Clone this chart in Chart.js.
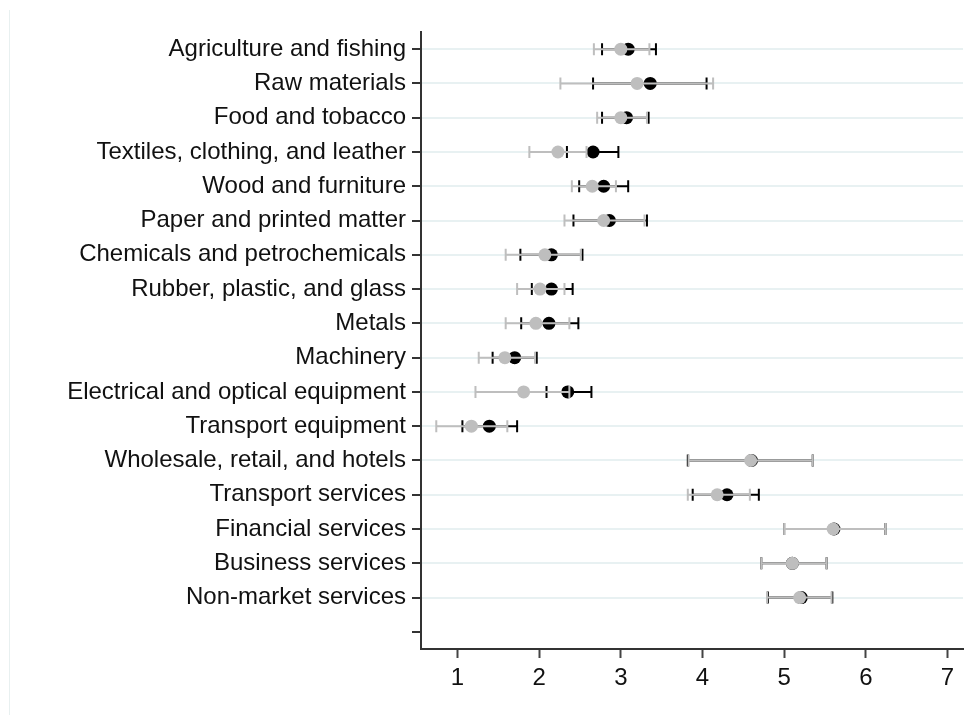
<!DOCTYPE html>
<html lang="en">
<head>
    <meta charset="UTF-8">
    <title>Sector estimates</title>
    <script src="https://cdn.jsdelivr.net/npm/chart.js@4.4.1/dist/chart.umd.min.js"></script>
    <style>
        body {
            margin: 0;
            background-color: white;
        }
        .wrap {
            position: relative;
            width: 979px;
            height: 715px;
        }
        .frame {
            position: absolute;
            left: 9px;
            top: 10px;
            height: 705px;
            border-left: 1px solid #e8f0f0;
        }
    </style>
</head>
<body>
    <div class="wrap">
        <div class="frame"></div>
        <canvas id="dotChart" width="979" height="715"></canvas>
    </div>

    <script>
// Categories (last one is the empty tick at the bottom)
const categories = [
    'Agriculture and fishing',
    'Raw materials',
    'Food and tobacco',
    'Textiles, clothing, and leather',
    'Wood and furniture',
    'Paper and printed matter',
    'Chemicals and petrochemicals',
    'Rubber, plastic, and glass',
    'Metals',
    'Machinery',
    'Electrical and optical equipment',
    'Transport equipment',
    'Wholesale, retail, and hotels',
    'Transport services',
    'Financial services',
    'Business services',
    'Non-market services',
    ''
];

// Black series: point estimate and interval
const blackMean = [3.09, 3.36, 3.07, 2.66, 2.79, 2.86, 2.15, 2.15, 2.12, 1.70, 2.35, 1.39, 4.60, 4.30, 5.61, 5.10, 5.21];
const blackLo   = [2.77, 2.66, 2.77, 2.34, 2.49, 2.42, 1.77, 1.91, 1.78, 1.43, 2.09, 1.06, 3.82, 3.88, 5.00, 4.72, 4.80];
const blackHi   = [3.43, 4.05, 3.34, 2.97, 3.09, 3.32, 2.53, 2.41, 2.48, 1.97, 2.64, 1.73, 5.35, 4.69, 6.24, 5.52, 5.59];

// Gray series: point estimate and interval
const grayMean = [3.00, 3.20, 3.00, 2.23, 2.65, 2.79, 2.07, 2.01, 1.96, 1.58, 1.81, 1.17, 4.59, 4.18, 5.60, 5.10, 5.19];
const grayLo   = [2.67, 2.26, 2.71, 1.88, 2.40, 2.31, 1.59, 1.73, 1.59, 1.26, 1.22, 0.74, 3.83, 3.82, 5.00, 4.72, 4.79];
const grayHi   = [3.35, 4.13, 3.32, 2.58, 2.94, 3.29, 2.51, 2.31, 2.37, 1.95, 2.37, 1.61, 5.35, 4.58, 6.24, 5.52, 5.58];

// X axis ticks
const xTicks = [1, 2, 3, 4, 5, 6, 7];

const grayColor = 'rgb(190,190,190)';
const blackColor = '#000000';

// Draw each dataset's interval (line + caps) right before its points
const errorBars = {
    id: 'errorBars',
    beforeDatasetDraw(chart, args) {
        const ds = chart.data.datasets[args.index];
        const xs = chart.scales.x;
        const ys = chart.scales.y;
        const ctx = chart.ctx;
        ctx.save();
        ctx.strokeStyle = ds.barColor;
        ctx.lineWidth = 2;
        ds.lo.forEach((lo, i) => {
            const py = ys.getPixelForValue(i);
            const x1 = xs.getPixelForValue(lo);
            const x2 = xs.getPixelForValue(ds.hi[i]);
            ctx.beginPath();
            ctx.moveTo(x1, py);
            ctx.lineTo(x2, py);
            ctx.moveTo(x1, py - 6);
            ctx.lineTo(x1, py + 6);
            ctx.moveTo(x2, py - 6);
            ctx.lineTo(x2, py + 6);
            ctx.stroke();
        });
        ctx.restore();
    }
};

const toPoints = means => means.map((v, i) => ({ x: v, y: categories[i] }));
const tickFont = { family: '"Liberation Sans", Arial, sans-serif', size: 24 };

new Chart(document.getElementById('dotChart'), {
    type: 'scatter',
    data: {
        datasets: [
            {
                // gray drawn last (on top)
                data: toPoints(grayMean),
                lo: grayLo,
                hi: grayHi,
                barColor: grayColor,
                backgroundColor: grayColor,
                borderColor: grayColor,
                pointRadius: 6.5,
                borderWidth: 0,
                order: 1
            },
            {
                data: toPoints(blackMean),
                lo: blackLo,
                hi: blackHi,
                barColor: blackColor,
                backgroundColor: blackColor,
                borderColor: blackColor,
                pointRadius: 6.5,
                borderWidth: 0,
                order: 2
            }
        ]
    },
    options: {
        responsive: false,
        animation: false,
        layout: { padding: { top: 32, right: 16, left: 0, bottom: 0 } },
        plugins: {
            legend: { display: false },
            tooltip: { enabled: false }
        },
        scales: {
            x: {
                type: 'linear',
                position: 'bottom',
                min: 0.553,
                max: 7.19,
                afterBuildTicks: scale => {
                    scale.ticks = xTicks.map(v => ({ value: v }));
                },
                afterFit: scale => { scale.height = 66; },
                border: { display: true, color: '#333', width: 2 },
                grid: {
                    drawOnChartArea: false,
                    drawTicks: true,
                    tickLength: 9,
                    tickColor: '#444',
                    tickWidth: 2
                },
                ticks: {
                    color: '#111',
                    font: tickFont,
                    padding: 6,
                    maxRotation: 0
                }
            },
            y: {
                type: 'category',
                labels: categories,
                offset: true,
                afterFit: scale => { scale.width = 421; },
                border: { display: true, color: '#333', width: 2 },
                grid: {
                    color: ctx => (ctx.index === categories.length - 1 ? 'rgba(0,0,0,0)' : '#e8f1f2'),
                    lineWidth: 2,
                    drawTicks: true,
                    tickLength: 9,
                    tickColor: '#333',
                    tickWidth: 2
                },
                ticks: {
                    color: '#111',
                    font: tickFont,
                    padding: 6,
                    autoSkip: false
                }
            }
        }
    },
    plugins: [errorBars]
});
    </script>
</body>
</html>
